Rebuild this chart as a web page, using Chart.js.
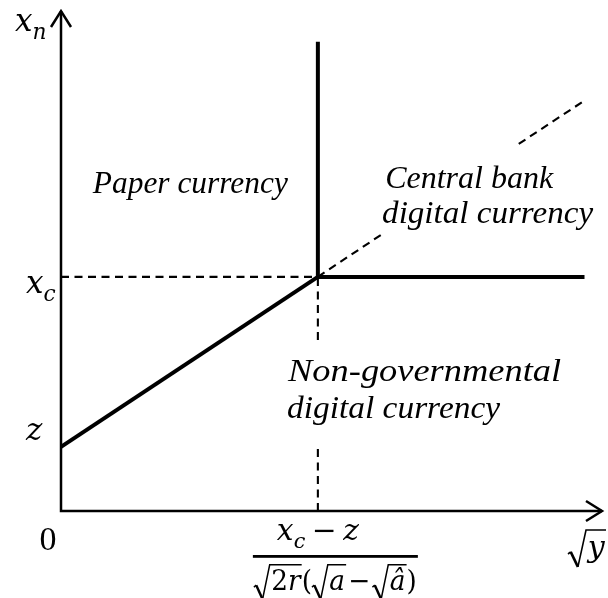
<!DOCTYPE html>
<html>
<head>
<meta charset="utf-8">
<script src="https://cdn.jsdelivr.net/npm/chart.js@4/dist/chart.umd.min.js"></script>
<style>
  html, body { margin: 0; padding: 0; background: #fff; overflow: hidden; }
  #wrap { width: 608px; height: 598px; position: relative; }
</style>
</head>
<body>
<div id="wrap"><canvas id="c"></canvas></div>
<script>
// Regime boundaries in the (sqrt(y), x_n) plane
const zValue = 1.37;      // intercept of the lower boundary
const xcValue = 5;        // threshold x_c
const kinkX = 5;          // (x_c - z) / (sqrt(2r)(sqrt(a) - sqrt(a_hat)))

const lowerX = [0, 5];
const lowerY = [1.37, 5];
const upperX = [5, 5];
const upperY = [5, 10.02];
const rightX = [5, 10.19];
const rightY = [5, 5];
// dashed continuation of the lower boundary (broken around the label)
const extLowX = [5, 6.26];
const extLowY = [5, 5.92];
const extHighX = [8.91, 10.14];
const extHighY = [7.84, 8.73];
// dashed drop line below the kink (broken around the label)
const dropLowY = [0, 1.37];
const dropHighY = [3.65, 5];

// axis extents
const xAxisMax = 10.55;
const yAxisMax = 10.7;

const pts = (xs, ys) => xs.map((x, i) => ({ x, y: ys[i] }));

const solid = (data) => ({
  data, borderColor: '#000', borderWidth: 4, pointRadius: 0,
  showLine: true, fill: false, borderCapStyle: 'butt', borderJoinStyle: 'miter'
});
const dashed = (data) => ({
  data, borderColor: '#000', borderWidth: 2.1, pointRadius: 0,
  showLine: true, fill: false, borderDash: [8, 5.5], borderCapStyle: 'butt'
});

const MATH = '"DejaVu Serif", serif';
const TEXT = '"Liberation Serif", "Times New Roman", serif';
const RAD = 0.66; // radical sign width, in em

// --- small math typesetter: runs of text, subscripts and radicals ---
function fontFor(p, size) {
  const s = p.s ? size * 0.7 : size;
  return (p.i ? 'italic ' : '') + s + 'px ' + MATH;
}
function runWidth(ctx, parts, size) {
  let w = 0;
  for (const p of parts) {
    if (p.g) { w += p.g * size; continue; }
    if (p.sqrt) { w += RAD * size + runWidth(ctx, p.sqrt, size) + 0.04 * size; continue; }
    ctx.font = fontFor(p, size);
    w += ctx.measureText(p.t).width;
  }
  return w;
}
function drawRun(ctx, parts, x, y, size) {
  for (const p of parts) {
    if (p.g) { x += p.g * size; continue; }
    if (p.sqrt) {
      const inner = runWidth(ctx, p.sqrt, size);
      const end = x + RAD * size + inner + 0.04 * size;
      const bx = x + 0.33 * size, tx = x + 0.6 * size;
      ctx.save();
      ctx.strokeStyle = '#000';
      ctx.lineJoin = 'miter';
      ctx.lineWidth = 1.6;
      ctx.beginPath();
      ctx.moveTo(x, y - 0.1 * size);
      ctx.lineTo(x + 0.09 * size, y - 0.17 * size);
      ctx.stroke();
      ctx.lineWidth = 2.6;
      ctx.beginPath();
      ctx.moveTo(x + 0.09 * size, y - 0.17 * size);
      ctx.lineTo(bx, y + 0.33 * size);
      ctx.stroke();
      ctx.lineWidth = 1.6;
      ctx.beginPath();
      ctx.moveTo(bx, y + 0.33 * size);
      ctx.lineTo(tx, y - 0.9 * size);
      ctx.lineTo(end, y - 0.9 * size);
      ctx.stroke();
      ctx.restore();
      drawRun(ctx, p.sqrt, x + RAD * size, y, size);
      x = end;
      continue;
    }
    ctx.font = fontFor(p, size);
    ctx.fillText(p.t, x, p.s ? y + 0.27 * size : y);
    x += ctx.measureText(p.t).width;
  }
  return x;
}
// draw a run starting at x (or centred on x), optionally fitted to a width
function drawMath(ctx, parts, x, y, size, opt = {}) {
  const w = runWidth(ctx, parts, size);
  const target = opt.width || w;
  const sx = target / w;
  const left = opt.center ? x - target / 2 : x;
  ctx.save();
  ctx.translate(left, y);
  ctx.scale(sx, 1);
  ctx.fillStyle = '#000';
  ctx.textBaseline = 'alphabetic';
  ctx.textAlign = 'left';
  drawRun(ctx, parts, 0, 0, size);
  ctx.restore();
}

// axis-end and tick labels
const xAxisTitle = [{ sqrt: [{ t: 'y', i: true }] }];
const yAxisTitle = [{ t: 'x', i: true }, { t: 'n', i: true, s: true }];
const yTickValues = [xcValue, zValue];
const yTickLabels = [
  [{ t: 'x', i: true }, { t: 'c', i: true, s: true }],
  [{ t: 'z', i: true }]
];
const originLabel = '0';
const kinkNumerator = [
  { t: 'x', i: true }, { t: 'c', i: true, s: true }, { g: 0.22 },
  { t: '\u2212' }, { g: 0.22 }, { t: 'z', i: true }
];
const kinkDenominator = [
  { sqrt: [{ t: '2' }, { t: 'r', i: true }] }, { t: '(' },
  { sqrt: [{ t: 'a', i: true }] }, { g: 0.08 }, { t: '\u2212' }, { g: 0.08 },
  { sqrt: [{ t: '\u00e2', i: true }] }, { t: ')' }
];

// regime names
const regionNames = ['Paper currency', 'Central bank', 'digital currency', 'Non-governmental', 'digital currency'];
const regionSpots = [
  { x: 0.62, y: 6.79, w: 195 },
  { x: 6.31, y: 6.90, w: 168 },
  { x: 6.25, y: 6.15, w: 211 },
  { x: 4.42, y: 2.78, w: 273 },
  { x: 4.40, y: 1.99, w: 213 }
];

const diagram = {
  id: 'diagram',
  afterDatasetsDraw(chart) {
    const ctx = chart.ctx;
    const xs = chart.scales.x, ys = chart.scales.y;
    const x0 = xs.getPixelForValue(0), y0 = ys.getPixelForValue(0);
    const xEnd = xs.getPixelForValue(xAxisMax), yEnd = ys.getPixelForValue(yAxisMax);

    // axes with open arrowheads
    ctx.save();
    ctx.strokeStyle = '#000';
    ctx.lineWidth = 2.5;
    ctx.lineCap = 'butt';
    ctx.beginPath();
    ctx.moveTo(x0, y0 + 1.25);
    ctx.lineTo(x0, yEnd + 1);
    ctx.moveTo(x0 - 1.25, y0);
    ctx.lineTo(xEnd - 1, y0);
    ctx.stroke();
    ctx.lineJoin = 'miter';
    ctx.beginPath();
    ctx.moveTo(x0 - 10, yEnd + 17);
    ctx.lineTo(x0, yEnd + 1);
    ctx.lineTo(x0 + 10, yEnd + 17);
    ctx.moveTo(xEnd - 17, y0 - 10);
    ctx.lineTo(xEnd - 1, y0);
    ctx.lineTo(xEnd - 17, y0 + 10);
    ctx.stroke();
    ctx.restore();

    // axis titles
    drawMath(ctx, yAxisTitle, 15, 31, 31);
    drawMath(ctx, xAxisTitle, 568, 557, 30, { width: 38 });

    // y tick labels
    const tickOffsets = [16, -7];
    yTickValues.forEach((v, i) => {
      drawMath(ctx, yTickLabels[i], 26, ys.getPixelForValue(v) + tickOffsets[i], 31);
    });

    // origin
    ctx.save();
    ctx.fillStyle = '#000';
    ctx.font = '34px ' + TEXT;
    ctx.textAlign = 'center';
    ctx.textBaseline = 'alphabetic';
    ctx.fillText(originLabel, x0 - 13, y0 + 39);
    ctx.restore();

    // x tick label at the kink: a fraction
    const kx = xs.getPixelForValue(kinkX);
    drawMath(ctx, kinkNumerator, kx, y0 + 29, 29, { center: true, width: 82 });
    ctx.save();
    ctx.fillStyle = '#000';
    ctx.fillRect(kx - 65, y0 + 44, 165, 2.8);
    ctx.restore();
    drawMath(ctx, kinkDenominator, kx - 64, y0 + 79, 28, { width: 163 });

    // regime names
    ctx.save();
    ctx.fillStyle = '#000';
    ctx.textBaseline = 'alphabetic';
    ctx.textAlign = 'left';
    regionNames.forEach((name, i) => {
      const s = regionSpots[i];
      ctx.font = 'italic 31px ' + TEXT;
      const w = ctx.measureText(name).width;
      ctx.save();
      ctx.translate(xs.getPixelForValue(s.x), ys.getPixelForValue(s.y));
      ctx.scale(s.w / w, 1);
      ctx.fillText(name, 0, 0);
      ctx.restore();
    });
    ctx.restore();
  }
};

new Chart(document.getElementById('c'), {
  type: 'scatter',
  data: {
    datasets: [
      dashed(pts([0, kinkX], [xcValue, xcValue])),
      dashed(pts([kinkX, kinkX], dropLowY)),
      dashed(pts([kinkX, kinkX], dropHighY)),
      dashed(pts(extLowX, extLowY)),
      dashed(pts(extHighX, extHighY)),
      solid(pts(lowerX, lowerY)),
      solid(pts(upperX, upperY)),
      solid(pts(rightX, rightY))
    ]
  },
  options: {
    responsive: true,
    maintainAspectRatio: false,
    animation: false,
    layout: { padding: { left: 61, right: 5, top: 10, bottom: 87 } },
    plugins: { legend: { display: false }, tooltip: { enabled: false } },
    scales: {
      x: { type: 'linear', min: 0, max: xAxisMax, display: false },
      y: { type: 'linear', min: 0, max: yAxisMax, display: false }
    }
  },
  plugins: [diagram]
});
</script>
</body>
</html>
